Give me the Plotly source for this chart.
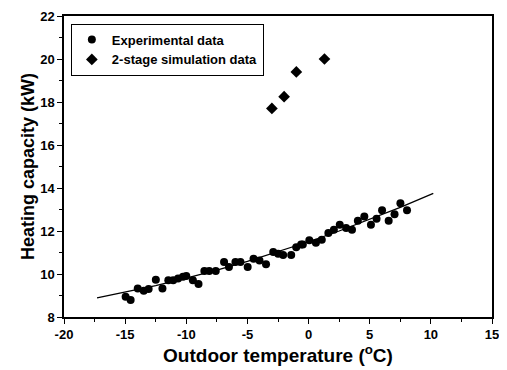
import plotly.graph_objects as go

# Experimental data
exp_x = [-14.96, -14.55, -13.97, -13.48, -13.08, -12.49, -11.95, -11.47, -11.07, -10.67,
         -10.27, -10.0, -9.46, -9.00, -8.52, -8.12, -7.59, -6.91, -6.51, -5.98,
         -5.57, -4.98, -4.50, -4.01, -3.48, -2.89, -2.49, -2.08, -1.42, -1.01,
         -0.61, -0.47, 0.06, 0.60, 1.08, 1.62, 2.07, 2.55, 3.07, 3.55,
         4.03, 4.56, 5.10, 5.56, 6.01, 6.55, 7.03, 7.51, 8.05]
exp_y = [8.94, 8.79, 9.33, 9.22, 9.30, 9.73, 9.33, 9.71, 9.71, 9.79,
         9.87, 9.91, 9.71, 9.53, 10.14, 10.14, 10.14, 10.56, 10.33, 10.56,
         10.56, 10.33, 10.71, 10.63, 10.45, 11.02, 10.94, 10.88, 10.88, 11.25,
         11.37, 11.37, 11.57, 11.45, 11.59, 11.91, 12.06, 12.29, 12.14, 12.06,
         12.48, 12.68, 12.29, 12.57, 12.97, 12.48, 12.78, 13.29, 12.97]

# 2-stage simulation data
sim_x = [-3.0, -2.0, -1.0, 1.3]
sim_y = [17.7, 18.25, 19.4, 20.0]

# Fitted curve
fit_x = [-17.3, -15, -12.5, -10, -7.5, -5, -2.5, 0, 2.5, 5, 7.5, 10.2]
fit_y = [8.89, 9.15, 9.46, 9.81, 10.18, 10.59, 11.03, 11.5, 12.0, 12.54, 13.10, 13.75]

# Tick values / labels
x_ticks = [-20, -15, -10, -5, 0, 5, 10, 15]
y_ticks = [8, 10, 12, 14, 16, 18, 20, 22]

FONT = "Liberation Sans, Arial, sans-serif"

fig = go.Figure()
fig.add_trace(go.Scatter(x=fit_x, y=fit_y, mode="lines", line=dict(color="black", width=1.3),
                         showlegend=False, hoverinfo="skip"))
fig.add_trace(go.Scatter(x=exp_x, y=exp_y, mode="markers", name="<b>Experimental data</b>",
                         marker=dict(symbol="circle", size=8, color="black")))
fig.add_trace(go.Scatter(x=sim_x, y=sim_y, mode="markers", name="<b>2-stage simulation data</b>",
                         marker=dict(symbol="diamond", size=9, color="black")))

axis_common = dict(
    showline=True, linecolor="black", linewidth=1.5, mirror=True,
    ticks="outside", ticklen=5, tickwidth=1.2, tickcolor="black",
    showgrid=False, zeroline=False, automargin=False,
    ticklabeloverflow="allow",
    tickfont=dict(family=FONT, size=13, color="black", weight="bold"),
)

fig.update_xaxes(range=[-20, 15], tickvals=x_ticks,
                 ticktext=[f"<b>{v}</b>" for v in x_ticks],
                 minor=dict(dtick=2.5, ticks="outside", ticklen=3, tickcolor="black", tickwidth=1),
                 title=dict(text="<b>Outdoor temperature (<sup>o</sup>C)</b>",
                            font=dict(family=FONT, size=19, color="black"), standoff=0),
                 **axis_common)
fig.update_yaxes(range=[8, 22], tickvals=y_ticks,
                 ticktext=[f"<b>{v}</b>" for v in y_ticks],
                 minor=dict(dtick=1, ticks="outside", ticklen=3, tickcolor="black", tickwidth=1),
                 title=dict(text="<b>Heating capacity (kW)</b>",
                            font=dict(family=FONT, size=18, color="black"), standoff=1),
                 **axis_common)

# the page body has an 8px default margin; the figure is sized to fit the window
fig.update_layout(
    width=499, height=362,
    margin=dict(l=56, r=15, t=8, b=53),
    paper_bgcolor="white", plot_bgcolor="white",
    legend=dict(x=0.016, y=0.975, xanchor="left", yanchor="top",
                bordercolor="black", borderwidth=1, bgcolor="white",
                font=dict(family=FONT, size=13, color="black"),
                tracegroupgap=0, itemwidth=30),
)

fig.write_html("out.html")
